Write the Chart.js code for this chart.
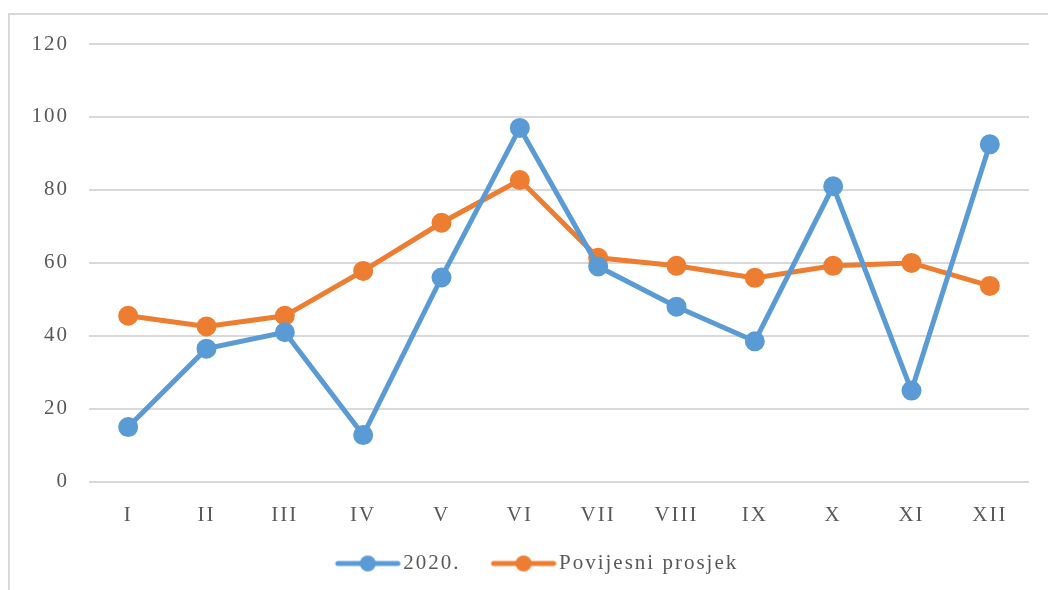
<!DOCTYPE html>
<html>
<head>
<meta charset="utf-8">
<script src="https://cdn.jsdelivr.net/npm/chart.js@4"></script>
<style>
  html, body { margin: 0; padding: 0; background: #fff; }
  #wrap { width: 1048px; height: 590px; }
</style>
</head>
<body>
<div id="wrap"><canvas id="monthChart"></canvas></div>
<script>
// Months (roman numerals)
const months = ['I', 'II', 'III', 'IV', 'V', 'VI', 'VII', 'VIII', 'IX', 'X', 'XI', 'XII'];
const year2020 = [15, 36.5, 41, 12.8, 56, 97, 59, 48, 38.5, 81, 25, 92.5];
const historicalAvg = [45.5, 42.6, 45.5, 57.8, 71, 82.7, 61.4, 59.2, 55.9, 59.2, 60, 53.7];
const yTicks = [0, 20, 40, 60, 80, 100, 120];

const blue = '#5b9bd5';
const orange = '#ed7d31';

// legend marker: line with a dot in the middle
// (blank space on the left gives the gap between legend items)
function legendMarker(color) {
    const c = document.createElement('canvas');
    c.width = 92;
    c.height = 18;
    const g = c.getContext('2d');
    g.strokeStyle = color;
    g.lineWidth = 5;
    g.lineCap = 'round';
    g.beginPath();
    g.moveTo(29, 9);
    g.lineTo(89, 9);
    g.stroke();
    g.fillStyle = color;
    g.beginPath();
    g.arc(59, 9, 8, 0, Math.PI * 2);
    g.fill();
    return c;
}

// grey frame + the slightly spaced-out lettering of the original
const framePlugin = {
    id: 'frame',
    beforeLayout(chart) {
        chart.ctx.letterSpacing = '2px';
    },
    afterLayout(chart) {
        // legend in the original sits a little right of centre
        chart.legend.left += 13;
        chart.legend.right += 13;
    },
    beforeDraw(chart) {
        const c = chart.ctx;
        c.letterSpacing = '2px';
        c.save();
        c.strokeStyle = '#d9d9d9';
        c.lineWidth = 2;
        c.strokeRect(9, 14, 1200, 800);
        c.restore();
    }
};

const ctx = document.getElementById('monthChart').getContext('2d');
const monthChart = new Chart(ctx, {
    type: 'line',
    data: {
        labels: months,
        datasets: [{
            label: '2020.',
            data: year2020,
            borderColor: blue,
            backgroundColor: blue,
            borderWidth: 5,
            pointRadius: 7.5,
            pointHoverRadius: 7.5,
            pointStyle: 'circle',
            tension: 0
        }, {
            label: 'Povijesni prosjek',
            data: historicalAvg,
            borderColor: orange,
            backgroundColor: orange,
            borderWidth: 5,
            pointRadius: 7.5,
            pointHoverRadius: 7.5,
            pointStyle: 'circle',
            tension: 0
        }]
    },
    options: {
        responsive: true,
        maintainAspectRatio: false,
        animation: false,
        layout: {
            padding: { left: 0, right: 19, top: 44, bottom: 6 }
        },
        plugins: {
            tooltip: { enabled: false },
            legend: {
                position: 'bottom',
                labels: {
                    usePointStyle: true,
                    pointStyleWidth: 76,
                    padding: 12,
                    color: '#595959',
                    font: { family: 'Liberation Serif', size: 21 },
                    generateLabels(chart) {
                        return chart.data.datasets.map((ds, i) => ({
                            text: ds.label,
                            fillStyle: ds.borderColor,
                            strokeStyle: ds.borderColor,
                            fontColor: '#595959',
                            lineWidth: 0,
                            pointStyle: legendMarker(ds.borderColor),
                            hidden: false,
                            datasetIndex: i
                        }));
                    }
                }
            }
        },
        scales: {
            x: {
                offset: true,
                grid: { display: false },
                border: { display: false },
                ticks: {
                    color: '#595959',
                    padding: 13,
                    font: { family: 'Liberation Serif', size: 21 }
                }
            },
            y: {
                min: 0,
                max: 120,
                afterFit(scale) { scale.width = 89; },
                afterBuildTicks(scale) { scale.ticks = yTicks.map(v => ({ value: v })); },
                grid: { color: '#d9d9d9', lineWidth: 2, drawTicks: false },
                border: { display: false },
                ticks: {
                    color: '#595959',
                    padding: 20,
                    font: { family: 'Liberation Serif', size: 21 }
                }
            }
        }
    },
    plugins: [framePlugin]
});
</script>
</body>
</html>
